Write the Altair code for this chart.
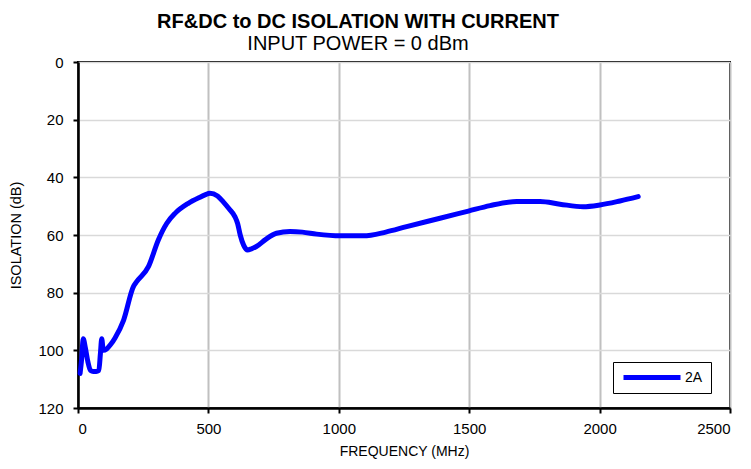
import altair as alt
import pandas as pd

freq = [8, 14, 20, 28, 38, 48, 58, 70, 80, 86, 91, 97, 110, 125, 142, 175, 212, 225, 270, 308, 340,
        372, 423, 465, 487, 506, 535, 557, 580, 602, 612, 622, 635, 650, 665, 684, 720, 761, 813,
        860, 915, 1005, 1094, 1180, 1260, 1388, 1497, 1580, 1682, 1772, 1848, 1937, 2001, 2078, 2148]
iso = [108, 103, 96, 99, 104, 107, 107.3, 107.3, 107, 101, 96, 100, 99.5, 98, 95.7, 89.5, 78, 76.2,
       71, 61.7, 56, 52.5, 49, 47, 46.1, 45.5, 46.5, 48.5, 51, 53.7, 56, 60, 63.5, 65.2, 64.8, 64,
       61.5, 59.4, 58.8, 59, 59.7, 60.3, 60.3, 59, 57.1, 54.2, 51.7, 49.8, 48.4, 48.4, 49.3, 50.2,
       49.6, 48.2, 46.7]
series = ["2A"] * len(freq)

x_ticks = [0, 500, 1000, 1500, 2000, 2500]
y_ticks = [0, 20, 40, 60, 80, 100, 120]

df = pd.DataFrame({"freq": freq, "iso": iso, "series": series})

FONT = "Liberation Sans"

chart = alt.Chart(df).mark_line(
    strokeWidth=5, interpolate="monotone", strokeCap="round", strokeJoin="round"
).encode(
    x=alt.X("freq:Q", scale=alt.Scale(domain=[0, 2500], nice=False),
            axis=alt.Axis(values=x_ticks, format="d", title="FREQUENCY (MHz)", grid=True,
                          gridColor="#c0c0c0", gridWidth=2,
                          domainColor="black", domainWidth=2.5,
                          tickColor="black", tickWidth=2, tickSize=5,
                          labelFontSize=15, labelPadding=8, labelColor="black",
                          titleFontSize=14, titleFontWeight="normal", titleColor="black",
                          titlePadding=8, labelFont=FONT, titleFont=FONT)),
    y=alt.Y("iso:Q", scale=alt.Scale(domain=[0, 120], reverse=True, nice=False),
            axis=alt.Axis(values=y_ticks, format="d", title="ISOLATION  (dB)", grid=True,
                          gridColor="#d9d9d9", gridWidth=1.5,
                          domainColor="black", domainWidth=2.5,
                          tickColor="black", tickWidth=2, tickSize=5,
                          labelFontSize=15, labelPadding=10, labelColor="black",
                          titleFontSize=14.5, titleFontWeight="normal", titleColor="black",
                          titlePadding=14, labelFont=FONT, titleFont=FONT)),
    color=alt.Color("series:N", scale=alt.Scale(domain=["2A"], range=["#0000ff"]),
                    legend=alt.Legend(title=None, orient="none", legendX=535, legendY=300,
                                      symbolType="stroke", symbolSize=3249, symbolStrokeWidth=5,
                                      clipHeight=15,
                                      strokeColor="black", fillColor="white", padding=8,
                                      labelFontSize=14, labelFont=FONT, labelColor="black",
                                      labelOffset=2)),
).properties(
    width=652,
    height=346,
    title=alt.TitleParams(
        text="RF&DC to DC ISOLATION WITH CURRENT",
        subtitle="INPUT POWER = 0 dBm",
        font=FONT, fontSize=20, fontWeight="bold", color="black",
        subtitleFont=FONT, subtitleFontSize=20, subtitleColor="black",
        subtitlePadding=2, anchor="middle", dx=-46, offset=1,
    ),
    autosize=alt.AutoSizeParams(type="none"),
    padding={"left": 70, "top": 54, "right": 10, "bottom": 52},
).configure_view(
    stroke="black", strokeWidth=2
)

chart.save("out.html", embed_options={"renderer": "svg", "actions": False})
